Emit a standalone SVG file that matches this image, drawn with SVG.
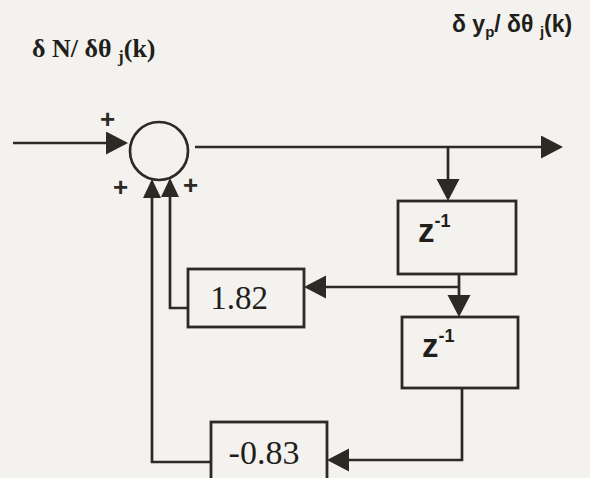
<svg xmlns="http://www.w3.org/2000/svg" width="590" height="478" viewBox="0 0 590 478">
<defs>
<style>
.ln{fill:none;stroke:#2b2a24;stroke-width:2.7;stroke-linejoin:miter}
.bx{fill:none;stroke:#2b2a24;stroke-width:2.8}
.sv{font-family:"Liberation Serif","Times New Roman",serif;fill:#1f1e1a}
.ss{font-family:"Liberation Sans",Arial,sans-serif;font-weight:bold;fill:#1f1e1a}
.pl{font-family:"Liberation Sans",Arial,sans-serif;font-weight:bold;font-size:26px;fill:#2b2a24}
</style>
<marker id="ah" markerUnits="userSpaceOnUse" markerWidth="22" markerHeight="24" refX="19" refY="11.5" orient="auto">
<path d="M0,0 L22,11.5 L0,23 Z" fill="#2b2a24"/>
</marker>
<marker id="ahs" markerUnits="userSpaceOnUse" markerWidth="19" markerHeight="19" refX="16" refY="9" orient="auto">
<path d="M0,0 L19,9 L0,18 Z" fill="#2b2a24"/>
</marker>
</defs>
<rect width="590" height="478" fill="#f3f2ee"/>

<g id="connectors">
<path class="ln" d="M13,143 H125" marker-end="url(#ah)"/>
<path class="ln" d="M195,147 H560" marker-end="url(#ah)"/>
<path class="ln" d="M448,147 V198" marker-end="url(#ah)"/>
<path class="ln" d="M459,274 V314" marker-end="url(#ah)"/>
<path class="ln" d="M459,287 H307" marker-end="url(#ah)"/>
<path class="ln" d="M188,308 H170 V181" marker-end="url(#ahs)"/>
<path class="ln" d="M462,388 V460 H330" marker-end="url(#ah)"/>
<path class="ln" d="M211,462 H152 V182" marker-end="url(#ahs)"/>
</g>

<g id="sum">
<circle cx="159" cy="151" r="29" fill="none" stroke="#2b2a24" stroke-width="2.7"/>
<text class="pl" x="100" y="128">+</text>
<text class="pl" x="113" y="196">+</text>
<text class="pl" x="183" y="194">+</text>
</g>

<g id="label-in">
<text class="sv" font-size="26" font-weight="bold" x="32" y="57">δ N/ δθ <tspan font-size="17" dy="5">j</tspan><tspan dy="-5">(k)</tspan></text>
</g>

<g id="label-out">
<text class="ss" font-size="23" x="452" y="32">δ y<tspan font-size="15" dy="5">p</tspan><tspan dy="-5">/ δθ </tspan><tspan font-size="15" dy="5">j</tspan><tspan dy="-5">(k)</tspan></text>
</g>

<g id="delay1">
<rect class="bx" x="398" y="201" width="118" height="73"/>
<text class="ss" font-size="33" x="418" y="242">z<tspan font-size="18" dy="-15">-1</tspan></text>
</g>

<g id="delay2">
<rect class="bx" x="402" y="317" width="116" height="71"/>
<text class="ss" font-size="33" x="422" y="357">z<tspan font-size="18" dy="-15">-1</tspan></text>
</g>

<g id="gain1">
<rect class="bx" x="188" y="269" width="116" height="58"/>
<text class="sv" font-size="33" x="239" y="309" text-anchor="middle">1.82</text>
</g>

<g id="gain2">
<rect class="bx" x="211" y="422" width="116" height="70"/>
<text class="sv" font-size="34" x="264" y="464" text-anchor="middle">-0.83</text>
</g>
</svg>
